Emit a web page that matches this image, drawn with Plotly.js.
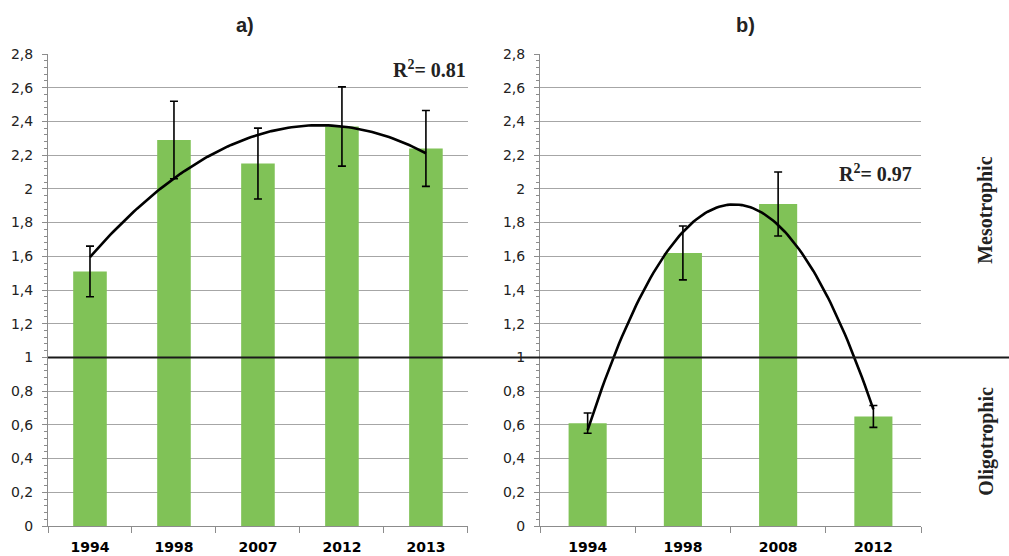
<!DOCTYPE html>
<html><head><meta charset="utf-8">
<script src="https://cdn.plot.ly/plotly-3.0.1.min.js"></script>
<style>html,body{margin:0;padding:0;background:#fff}#c{width:1009px;height:556px}</style>
</head><body><div id="c"></div>
<script>
// Panel a)
const yearsA = ['1994','1998','2007','2012','2013'];
const valuesA = [1.51, 2.29, 2.15, 2.37, 2.24];
const errorsA = [0.15, 0.23, 0.21, 0.235, 0.225];
// Panel b)
const yearsB = ['1994','1998','2008','2012'];
const valuesB = [0.61, 1.62, 1.91, 0.65];
const errorsB = [0.06, 0.16, 0.19, 0.065];
const r2A = '0.81', r2B = '0.97';
const yTicks = [0,0.2,0.4,0.6,0.8,1,1.2,1.4,1.6,1.8,2,2.2,2.4,2.6,2.8];

// least-squares quadratic trendline (like Excel's polynomial trendline)
function quadFit(ys){
  const n=ys.length, xs=ys.map((_,i)=>i);
  let S=[0,0,0,0,0], T=[0,0,0];
  for(let i=0;i<n;i++){const x=xs[i];for(let k=0;k<5;k++)S[k]+=Math.pow(x,k);for(let k=0;k<3;k++)T[k]+=ys[i]*Math.pow(x,k);}
  const A=[[S[0],S[1],S[2],T[0]],[S[1],S[2],S[3],T[1]],[S[2],S[3],S[4],T[2]]];
  for(let i=0;i<3;i++){for(let j=i+1;j<3;j++){const f=A[j][i]/A[i][i];for(let k=i;k<4;k++)A[j][k]-=f*A[i][k];}}
  const c=[0,0,0];for(let i=2;i>=0;i--){let s=A[i][3];for(let k=i+1;k<3;k++)s-=A[i][k]*c[k];c[i]=s/A[i][i];}
  const xx=[],yy=[];for(let t=0;t<=100;t++){const x=(n-1)*t/100;xx.push(x);yy.push(c[0]+c[1]*x+c[2]*x*x);}
  return {x:xx,y:yy};
}
const fitA=quadFit(valuesA), fitB=quadFit(valuesB);
const green='#80c257';
const err=(a)=>({type:'data',array:a,visible:true,color:'#000',thickness:1.6,width:4});
const idx=(a)=>a.map((_,i)=>i);

const data=[
 {type:'bar',x:idx(yearsA),y:valuesA,width:0.4,marker:{color:green},error_y:err(errorsA),xaxis:'x',yaxis:'y',hoverinfo:'none'},
 {type:'scatter',mode:'lines',x:fitA.x,y:fitA.y,line:{color:'#000',width:2.6},xaxis:'x',yaxis:'y',hoverinfo:'none'},
 {type:'bar',x:idx(yearsB),y:valuesB,width:0.4,marker:{color:green},error_y:err(errorsB),xaxis:'x2',yaxis:'y2',hoverinfo:'none'},
 {type:'scatter',mode:'lines',x:fitB.x,y:fitB.y,line:{color:'#000',width:2.6},xaxis:'x2',yaxis:'y2',hoverinfo:'none'}
];
const yax=(anchor)=>({anchor:anchor,range:[0,2.8],tickvals:yTicks,showgrid:true,gridcolor:'#a6a6a6',gridwidth:1,
  showline:true,linecolor:'#8c8c8c',linewidth:1,ticks:'outside',ticklen:5,tickcolor:'#8c8c8c',zeroline:false,
  minor:{dtick:0.04,tick0:0,ticks:'outside',ticklen:3,tickcolor:'#8c8c8c',showgrid:false},
  tickfont:{family:'DejaVu Sans',size:14,color:'#222'},ticklabelstandoff:6});
const xax=(anchor,dom,labels)=>({anchor:anchor,domain:dom,range:[-0.5,labels.length-0.5],tickvals:idx(labels),ticktext:labels,
  showline:true,linecolor:'#8c8c8c',linewidth:1,ticks:'',showgrid:false,zeroline:false,
  minor:{tick0:-0.5,dtick:1,ticks:'outside',ticklen:6,tickcolor:'#8c8c8c',showgrid:false},
  tickfont:{family:'DejaVu Sans',size:14,color:'#000',weight:'bold'},ticklabelstandoff:8});
const ann=(text,x,y,fam,size,angle)=>({text:text,xref:'paper',yref:'paper',x:x,y:y,xanchor:'center',yanchor:'middle',
  textangle:angle||0,showarrow:false,font:{family:fam,size:size,weight:'bold',color:'#222'}});
const layout={
 width:1009,height:556,margin:{l:48,r:88,t:54,b:30},
 paper_bgcolor:'#fff',plot_bgcolor:'#fff',showlegend:false,separators:',.',
 xaxis:xax('y',[0,0.481],yearsA),
 yaxis:yax('x'),
 xaxis2:xax('y2',[0.5636,1],yearsB),
 yaxis2:yax('x2'),
 shapes:[{type:'line',xref:'paper',yref:'y',x0:0,x1:1.11,y0:1,y1:1,line:{color:'#1a1a1a',width:2}}],
 annotations:[
  ann('a)',0.226,1.061,'Liberation Sans',20),
  ann('b)',0.799,1.061,'Liberation Sans',20),
  ann('R<sup>2</sup>= '+r2A,0.437,0.969,'Liberation Serif',20),
  ann('R<sup>2</sup>= '+r2B,0.948,0.747,'Liberation Serif',20),
  ann('Mesotrophic',1.074,0.669,'Liberation Serif',20,-90),
  ann('Oligotrophic',1.074,0.18,'Liberation Serif',20,-90)
 ]
};
Plotly.newPlot('c',data,layout,{displayModeBar:false,staticPlot:true});
</script></body></html>
